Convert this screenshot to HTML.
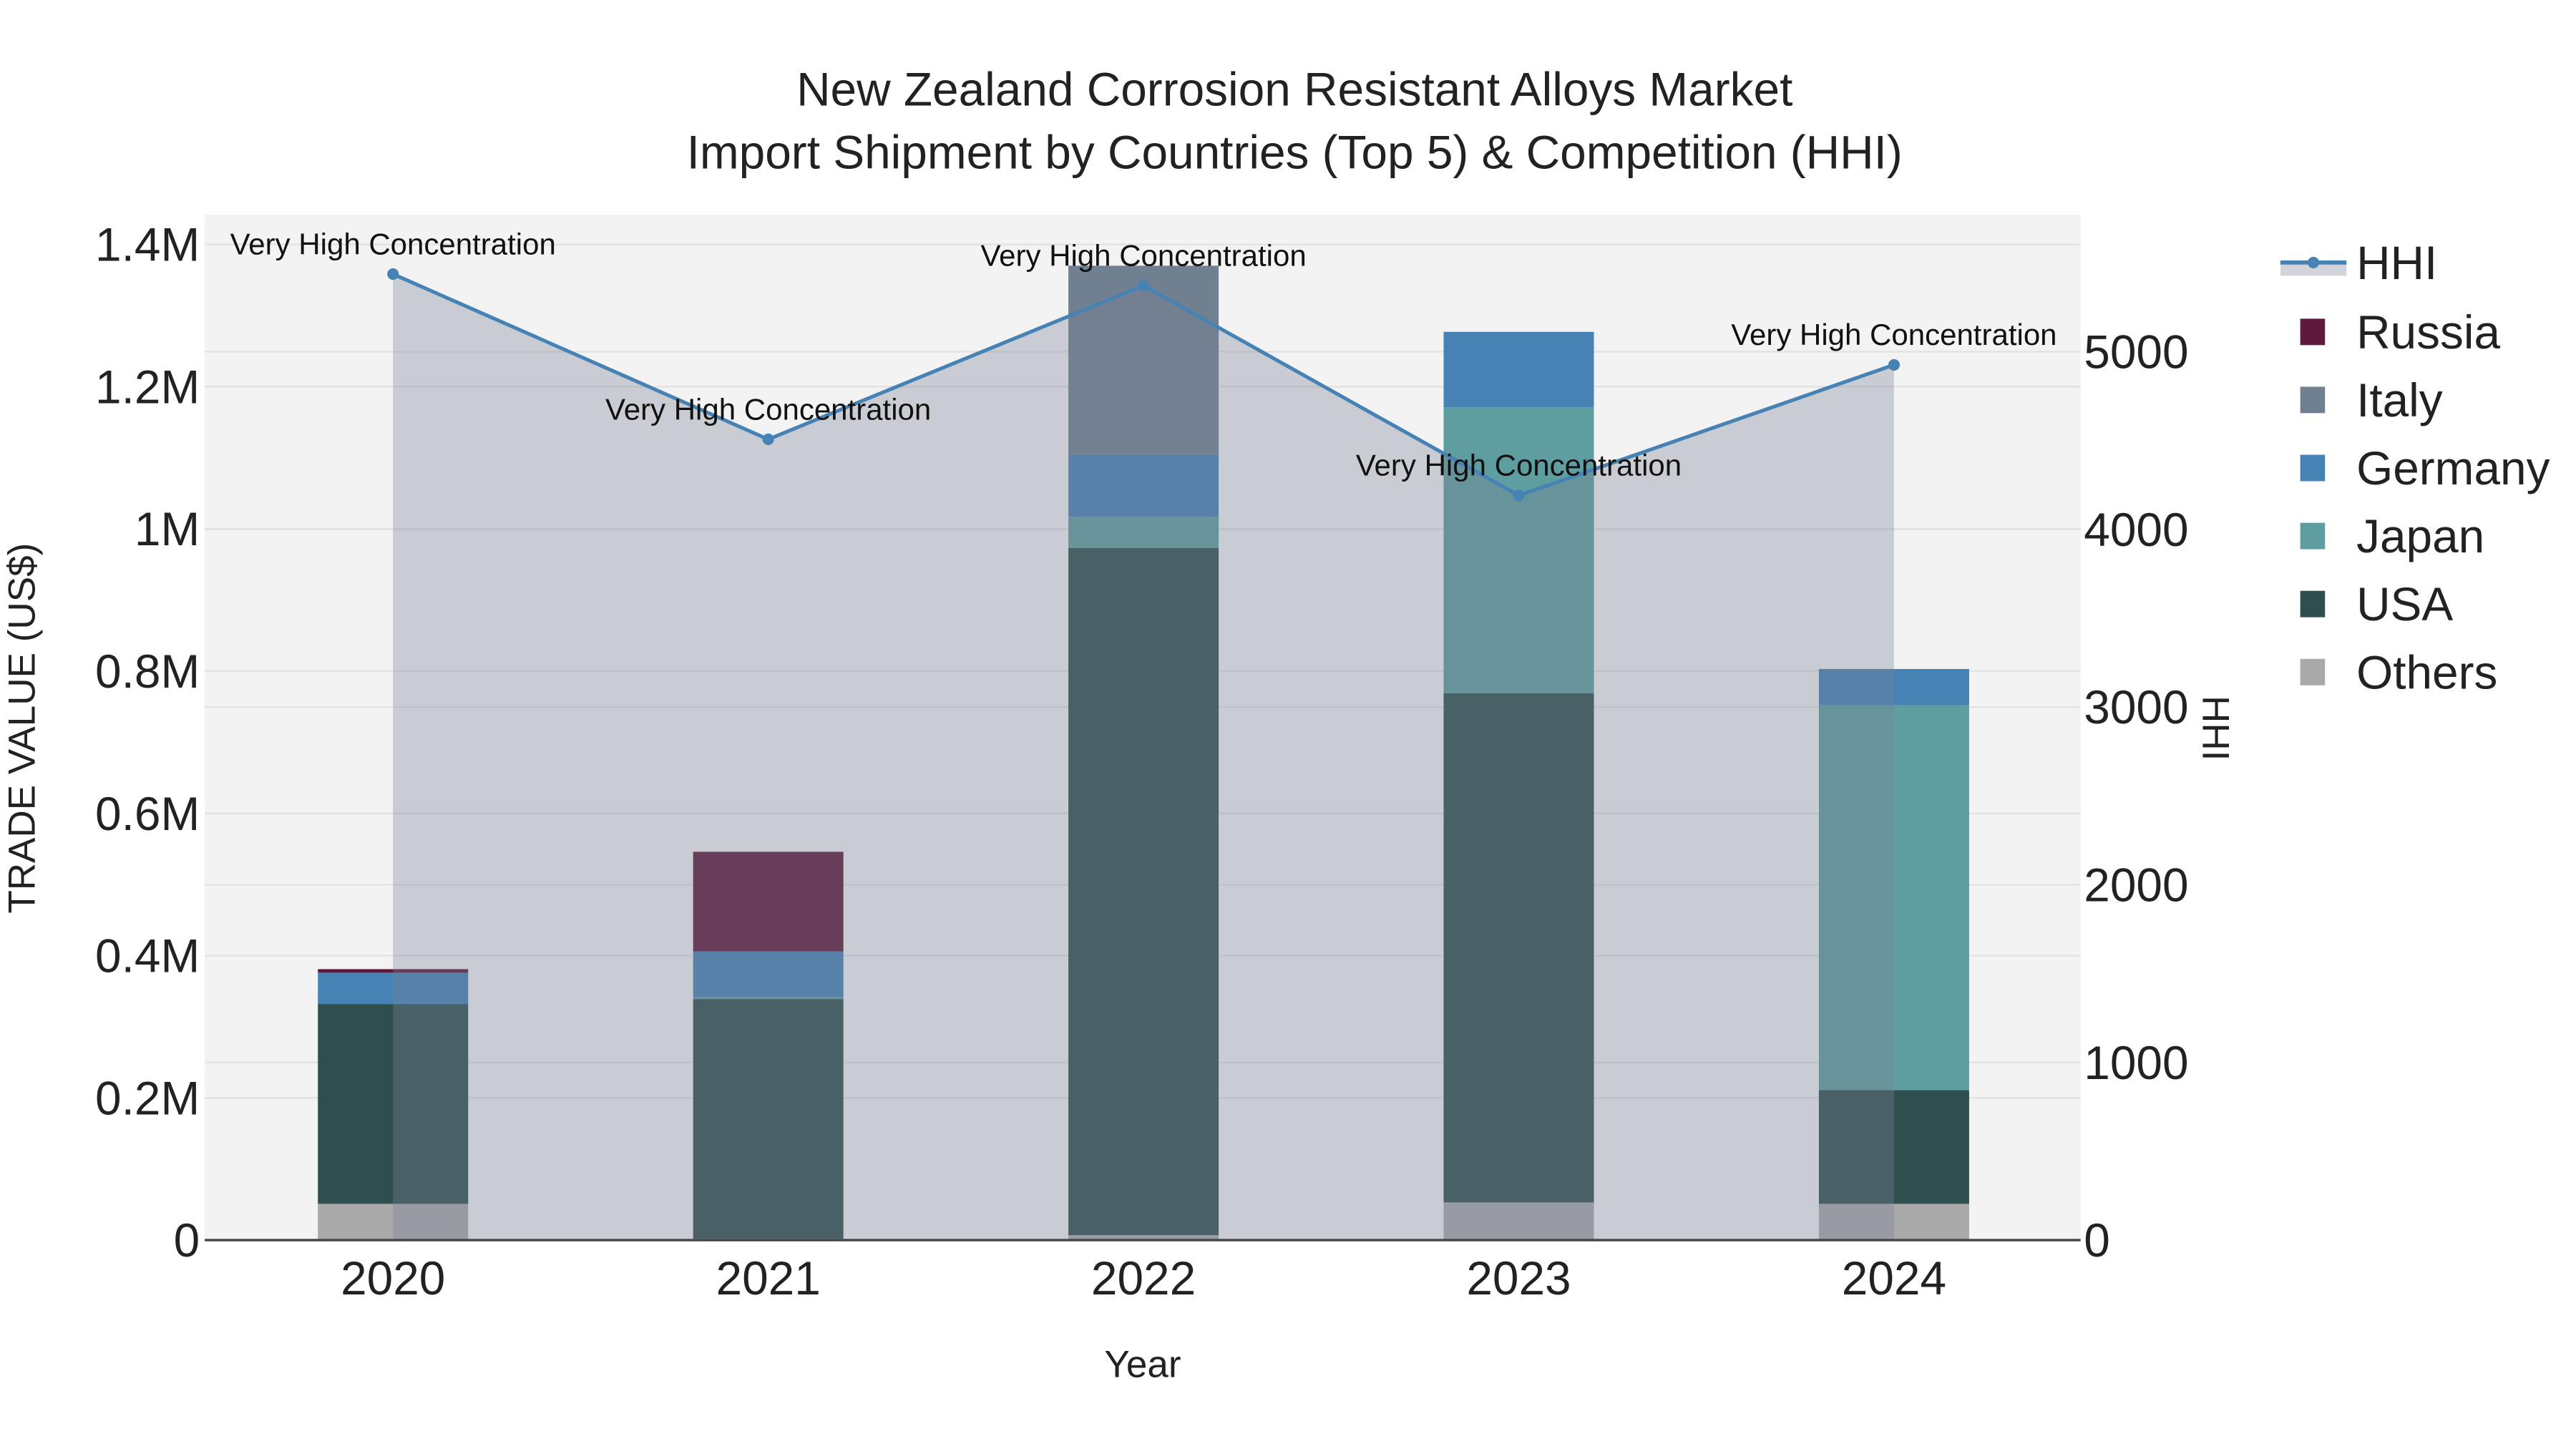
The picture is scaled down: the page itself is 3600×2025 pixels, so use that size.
<!DOCTYPE html>
<html><head><meta charset="utf-8"><style>
html,body{margin:0;padding:0;background:#fff;}
svg{display:block;font-family:"Liberation Sans",sans-serif;}
</style></head><body>
<svg id="chart" width="3600" height="2025" viewBox="0 0 1560 877.5" xmlns="http://www.w3.org/2000/svg">
<rect x="0" y="0" width="1560" height="877.5" fill="#fff"/>
<rect x="124" y="130" width="1136" height="621" fill="#f3f3f3"/>
<g id="grid"></g>
<g id="bars"></g>
<g id="hhi"></g>
<g id="axes"></g>
<text x="784" y="64" font-size="28.5" text-anchor="middle" fill="#222">New Zealand Corrosion Resistant Alloys Market</text>
<text x="784" y="102" font-size="28.5" text-anchor="middle" fill="#222">Import Shipment by Countries (Top 5) &amp; Competition (HHI)</text>
<text transform="translate(21,441) rotate(-90)" font-size="23" text-anchor="middle" fill="#222">TRADE VALUE (US$)</text>
<text transform="translate(1334,441) rotate(90)" font-size="23" text-anchor="middle" fill="#222">HHI</text>
<text x="692" y="834" font-size="23" text-anchor="middle" fill="#222">Year</text>
<g id="legend"></g>
</svg>
<script>
const years = ["2020","2021","2022","2023","2024"];
const others = [0.051,0.002,0.007,0.053,0.051];
const usa = [0.281,0.337,0.966,0.716,0.160];
const japan = [0,0.003,0.044,0.402,0.541];
const germany = [0.044,0.064,0.088,0.106,0.051];
const italy = [0,0,0.265,0,0];
const russia = [0.005,0.140,0,0,0];
const hhi = [5437,4507,5372,4191,4926];
const leftTicks = [0,0.2,0.4,0.6,0.8,1.0,1.2,1.4];
const leftTickLabels = ["0","0.2M","0.4M","0.6M","0.8M","1M","1.2M","1.4M"];
const rightTicks = [0,1000,2000,3000,4000,5000];

const NS="http://www.w3.org/2000/svg";
const X0=124,X1=1260,Y0=751;
function yL(v){return Y0 - v/1.4*603;}
function yR(v){return Y0 - v/5000*538;}
function xC(i){return 238 + i*227.25;}
function mk(tag,attrs,parent){const e=document.createElementNS(NS,tag);for(const k in attrs)e.setAttribute(k,attrs[k]);parent.appendChild(e);return e;}
const grid=document.getElementById('grid'),bars=document.getElementById('bars'),hg=document.getElementById('hhi'),axes=document.getElementById('axes'),leg=document.getElementById('legend');

leftTicks.forEach((t,i)=>{
  const y=yL(t);
  if(t>0){const l=mk('line',{x1:X0,x2:X1,y1:y,y2:y,stroke:'#e2e2e2','stroke-width':1},grid);
  
  }
  const tx=mk('text',{x:121,y:y+10,'font-size':28.5,'text-anchor':'end',fill:'#222'},axes);tx.textContent=leftTickLabels[i];
  
  
});
rightTicks.forEach(t=>{
  const y=yR(t);
  if(t>0){const l=mk('line',{x1:X0,x2:X1,y1:y,y2:y,stroke:'#e2e2e2','stroke-width':1},grid);
  
  }
  const tx=mk('text',{x:1262,y:y+10,'font-size':28.5,'text-anchor':'start',fill:'#222'},axes);tx.textContent=String(t);
  
  
});
const base=mk('line',{x1:X0,x2:X1,y1:Y0,y2:Y0,stroke:'#444','stroke-width':1.5},axes);


years.forEach((y,i)=>{
  const tx=mk('text',{x:xC(i),y:784,'font-size':28.5,'text-anchor':'middle',fill:'#222'},axes);tx.textContent=y;
  
  
});

const series=[["Others",others,"#a9a9a9"],["USA",usa,"#2f4f4f"],["Japan",japan,"#5f9ea0"],["Germany",germany,"#4682b4"],["Italy",italy,"#708090"],["Russia",russia,"#5e1a3c"]];
years.forEach((yr,i)=>{
  let acc=0;
  series.forEach(([name,vals,col])=>{
    const v=vals[i]; if(v<=0){return;}
    const r=mk('rect',{x:xC(i)-45.5,width:91,y:yL(acc+v),height:yL(acc)-yL(acc+v),fill:col},bars);
    
    
    acc+=v;
  });
});

let d='M'+xC(0)+','+Y0;
hhi.forEach((v,i)=>{d+=' L'+xC(i)+','+yR(v);});
d+=' L'+xC(hhi.length-1)+','+Y0+' Z';
const area=mk('path',{d:d,fill:'rgba(119,129,148,0.34)'},hg);


const line=mk('polyline',{points:hhi.map((v,i)=>xC(i)+','+yR(v)).join(' '),fill:'none',stroke:'#4682b4','stroke-width':2.2},hg);


hhi.forEach((v,i)=>{
  const c=mk('circle',{cx:xC(i),cy:yR(v),r:3.5,fill:'#4682b4'},hg);
  
  
  const t=mk('text',{x:xC(i),y:yR(v)-12,'font-size':18.2,'text-anchor':'middle',fill:'#111'},hg);t.textContent='Very High Concentration';
  
  
});

const lg=mk('g',{},leg);


mk('rect',{x:1381,y:159,width:40,height:8,fill:'rgba(119,129,148,0.34)'},lg);
mk('line',{x1:1381,x2:1421,y1:159,y2:159,stroke:'#4682b4','stroke-width':2.5},lg);
mk('circle',{cx:1401,cy:159,r:3.5,fill:'#4682b4'},lg);
const ht=mk('text',{x:1427,y:169,'font-size':28.5,fill:'#222'},lg);ht.textContent='HHI';
const legItems=[["Russia","#5e1a3c"],["Italy","#708090"],["Germany","#4682b4"],["Japan","#5f9ea0"],["USA","#2f4f4f"],["Others","#a9a9a9"]];
legItems.forEach(([n,c],i)=>{
  const y=201+i*41.2;
  const g=mk('g',{},leg);
  
  
  mk('rect',{x:1393,y:y-8,width:15,height:16,fill:c},g);
  const t=mk('text',{x:1427,y:y+10,'font-size':28.5,fill:'#222'},g);t.textContent=n;
});
</script>
</body></html>
